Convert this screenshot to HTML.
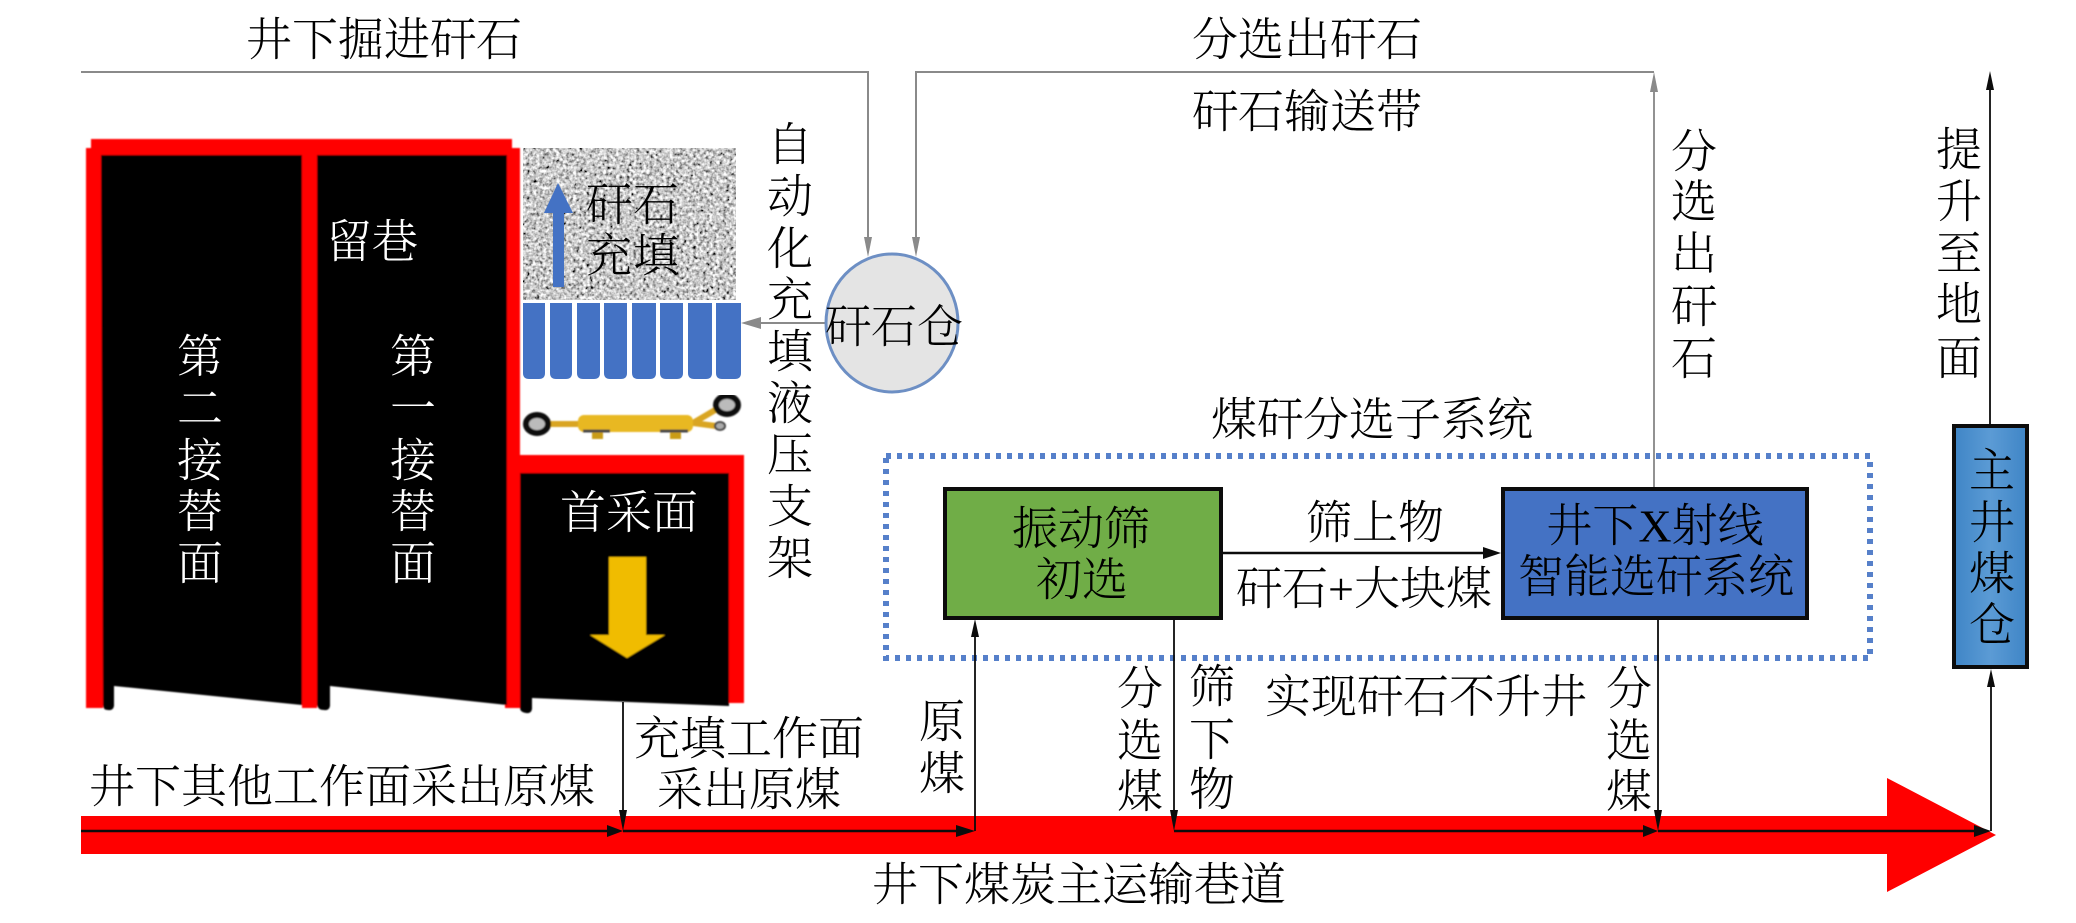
<!DOCTYPE html>
<html lang="zh">
<head>
<meta charset="utf-8">
<title>煤矸分选系统</title>
<style>
html,body{margin:0;padding:0;background:#fff;width:2076px;height:923px;overflow:hidden}
svg{display:block}
text{font-family:"Liberation Serif","Noto Serif CJK SC",serif;font-size:46px;font-weight:300;fill:#000;text-anchor:middle;dominant-baseline:central}
.w{fill:#fff}
</style>
</head>
<body>
<svg width="2076" height="923" viewBox="0 0 2076 923" xmlns="http://www.w3.org/2000/svg">
<defs>
<filter id="gravel" x="0" y="0" width="100%" height="100%">
<feTurbulence type="fractalNoise" baseFrequency="0.3" numOctaves="2" seed="7"/>
<feColorMatrix type="matrix" values="1.3 1.3 0 0 -0.72 1.3 1.3 0 0 -0.72 1.3 1.3 0 0 -0.72 0 0 0 0 1"/>
</filter>
<filter id="soft" x="-2%" y="-2%" width="104%" height="104%"><feGaussianBlur stdDeviation="0.8"/></filter>
<linearGradient id="bin" x1="0" y1="0" x2="1" y2="0">
<stop offset="0" stop-color="#3f85c6"/><stop offset=".5" stop-color="#5b9bd5"/><stop offset="1" stop-color="#3f85c6"/>
</linearGradient>
</defs>

<!-- Working faces -->
<g filter="url(#soft)">
<path fill="#f00" d="M91 139H512V148H520V708H505V155H317V708H302V155H103V708H86V148H91Z"/>
<path fill="#f00" d="M520 455H744V703H729V473H520Z"/>
<path fill="#000" d="M101 155H302V705L114 686V706Q113 711 108 710Q103 710 103 705Z"/>
<path fill="#000" d="M317 155H507V705L330 686V706Q329 711 324 710Q318 710 317 705Z"/>
<path fill="#000" d="M520 473H729V706L532 698V709Q531 714 526 713Q520 712 520 708Z"/>
<path fill="#f0bc00" d="M609 557H646V635H665L627 658L590 635H609Z"/>
</g>

<!-- Gravel fill -->
<rect x="523" y="148" width="213" height="152" fill="#999" filter="url(#gravel)"/>
<path fill="#4472c4" d="M558 183L573 213H564V287H553V213H544Z"/>

<!-- Hydraulic support blocks -->
<g fill="#4472c4">
<path d="M523 303h22v70q0 6-6 6h-10q-6 0-6-6z"/>
<path d="M550 303h22v70q0 6-6 6h-10q-6 0-6-6z"/>
<path d="M577 303h23v70q0 6-6 6h-11q-6 0-6-6z"/>
<path d="M604 303h23v70q0 6-6 6h-11q-6 0-6-6z"/>
<path d="M632 303h24v70q0 6-6 6h-12q-6 0-6-6z"/>
<path d="M660 303h23v70q0 6-6 6h-11q-6 0-6-6z"/>
<path d="M688 303h24v70q0 6-6 6h-12q-6 0-6-6z"/>
<path d="M716 303h25v70q0 6-6 6h-13q-6 0-6-6z"/>
</g>

<!-- Support leg -->
<g filter="url(#soft)">
<path d="M548 424H578M693 423L722 406M693 423L716 426" stroke="#d9a520" stroke-width="6" fill="none"/>
<rect x="578" y="415" width="115" height="17" rx="6" fill="#e8b820"/>
<rect x="592" y="430" width="11" height="9" fill="#c99c18"/>
<rect x="670" y="430" width="11" height="9" fill="#c99c18"/>
<path d="M583 431H610M660 431H688" stroke="#444" stroke-width="3"/>
<ellipse cx="537" cy="424" rx="11" ry="9" fill="#bbb" stroke="#111" stroke-width="6"/>
<ellipse cx="727" cy="405" rx="11" ry="9" fill="#bbb" stroke="#111" stroke-width="6"/>
<ellipse cx="720" cy="426" rx="5" ry="4" fill="#aaa" stroke="#444" stroke-width="2"/>
</g>

<!-- Main conveyor arrow -->
<path fill="#f00" d="M81 816H1887V778L1996 835L1887 892V854H81Z"/>

<!-- Dotted subsystem boundary -->
<rect x="886" y="456" width="984" height="202" fill="none" stroke="#4472c4" stroke-width="6" stroke-dasharray="5 6" opacity=".9"/>

<!-- Boxes -->
<rect x="945" y="489" width="276" height="129" fill="#70ad47" stroke="#0c0c0c" stroke-width="4"/>
<rect x="1503" y="489" width="304" height="129" fill="#4472c4" stroke="#0c0c0c" stroke-width="4"/>
<rect x="1954" y="426" width="73" height="241" fill="url(#bin)" stroke="#0c0c0c" stroke-width="4"/>

<!-- Grey conveyor lines -->
<g stroke="#8a8a8a" fill="none">
<path d="M81 72H868V240" stroke-width="2"/>
<path d="M916 240V72H1654" stroke-width="2"/>
<path d="M1654 90V487" stroke-width="1.6" stroke="#777"/>
<path d="M825 323H758" stroke-width="2"/>
</g>
<g fill="#8a8a8a">
<path d="M864 237H872L868 257Z"/>
<path d="M912 237H920L916 257Z"/>
<path d="M1650 92H1658L1654 72Z"/>
<path d="M741 323L761 317V329Z"/>
</g>

<!-- Circle -->
<ellipse cx="892" cy="323" rx="66" ry="69" fill="#e4e4e4" stroke="#6d8fc4" stroke-width="3"/>

<!-- Black connectors -->
<g stroke="#0c0c0c" fill="none" stroke-width="1.8">
<path d="M623 702V815"/>
<path d="M81 831H610" stroke-width="2.4"/>
<path d="M623 831H960" stroke-width="2.4"/>
<path d="M975 831V635"/>
<path d="M1174 619V815"/>
<path d="M1174 831H1645" stroke-width="2.4"/>
<path d="M1658 619V815"/>
<path d="M1658 831H1976" stroke-width="2.4"/>
<path d="M1991 831V685"/>
<path d="M1990 425V88"/>
<path d="M1222 553H1485" stroke-width="2.4"/>
</g>
<g fill="#0c0c0c">
<path d="M619 810H627L623 831Z"/>
<path d="M607 825V837L623 831Z"/>
<path d="M956 825V837L975 831Z"/>
<path d="M971 637H979L975 619Z"/>
<path d="M1170 810H1178L1174 831Z"/>
<path d="M1643 825V837L1658 831Z"/>
<path d="M1654 810H1662L1658 831Z"/>
<path d="M1974 825V837L1991 831Z"/>
<path d="M1987 687H1995L1991 669Z"/>
<path d="M1986 90H1994L1990 71Z"/>
<path d="M1483 547V559L1501 553Z"/>
</g>

<g transform="translate(1 2)">
<!-- Horizontal labels -->
<text x="383" y="38">井下掘进矸石</text>
<text x="1306" y="38">分选出矸石</text>
<text x="1306" y="110">矸石输送带</text>
<text x="1371" y="418">煤矸分选子系统</text>
<text x="371" y="240" class="w">留巷</text>
<text x="628" y="511" class="w">首采面</text>
<text x="893" y="325">矸石仓</text>
<text x="748" y="737">充填工作面</text>
<text x="748" y="788">采出原煤</text>
<text x="341" y="785">井下其他工作面采出原煤</text>
<text x="1078" y="883">井下煤炭主运输巷道</text>
<text x="1080" y="527">振动筛</text>
<text x="1081" y="578">初选</text>
<text x="1374" y="521">筛上物</text>
<text x="1363" y="587">矸石+大块煤</text>
<text x="1654" y="524">井下X射线</text>
<text x="1655" y="575">智能选矸系统</text>
<text x="1425" y="695">实现矸石不升井</text>

<!-- Gravel label -->
<text x="608" y="203">矸</text><text x="655" y="203">石</text>
<text x="608" y="254">充</text><text x="655" y="254">填</text>

<!-- Vertical labels -->
<text x="789" y="143">自</text><text x="789" y="195">动</text><text x="789" y="247">化</text><text x="789" y="298">充</text><text x="789" y="350">填</text><text x="789" y="402">液</text><text x="789" y="453">压</text><text x="789" y="505">支</text><text x="789" y="557">架</text>

<text x="199" y="355" class="w">第</text><text x="199" y="407" class="w">二</text><text x="199" y="459" class="w">接</text><text x="199" y="510" class="w">替</text><text x="199" y="562" class="w">面</text>

<text x="412" y="355" class="w">第</text><text x="412" y="407" class="w">一</text><text x="412" y="459" class="w">接</text><text x="412" y="510" class="w">替</text><text x="412" y="562" class="w">面</text>

<text x="941" y="720">原</text><text x="941" y="772">煤</text>

<text x="1139" y="687">分</text><text x="1139" y="739">选</text><text x="1139" y="790">煤</text>
<text x="1211" y="685">筛</text><text x="1211" y="738">下</text><text x="1211" y="788">物</text>
<text x="1628" y="687">分</text><text x="1628" y="739">选</text><text x="1628" y="790">煤</text>

<text x="1991" y="469">主</text><text x="1991" y="521">井</text><text x="1991" y="572">煤</text><text x="1991" y="623">仓</text>

<text x="1693" y="150">分</text><text x="1693" y="200">选</text><text x="1693" y="252">出</text><text x="1693" y="305">矸</text><text x="1693" y="357">石</text>

<text x="1958" y="148">提</text><text x="1958" y="200">升</text><text x="1958" y="252">至</text><text x="1958" y="303">地</text><text x="1958" y="357">面</text>
</g>
</svg>
</body>
</html>
